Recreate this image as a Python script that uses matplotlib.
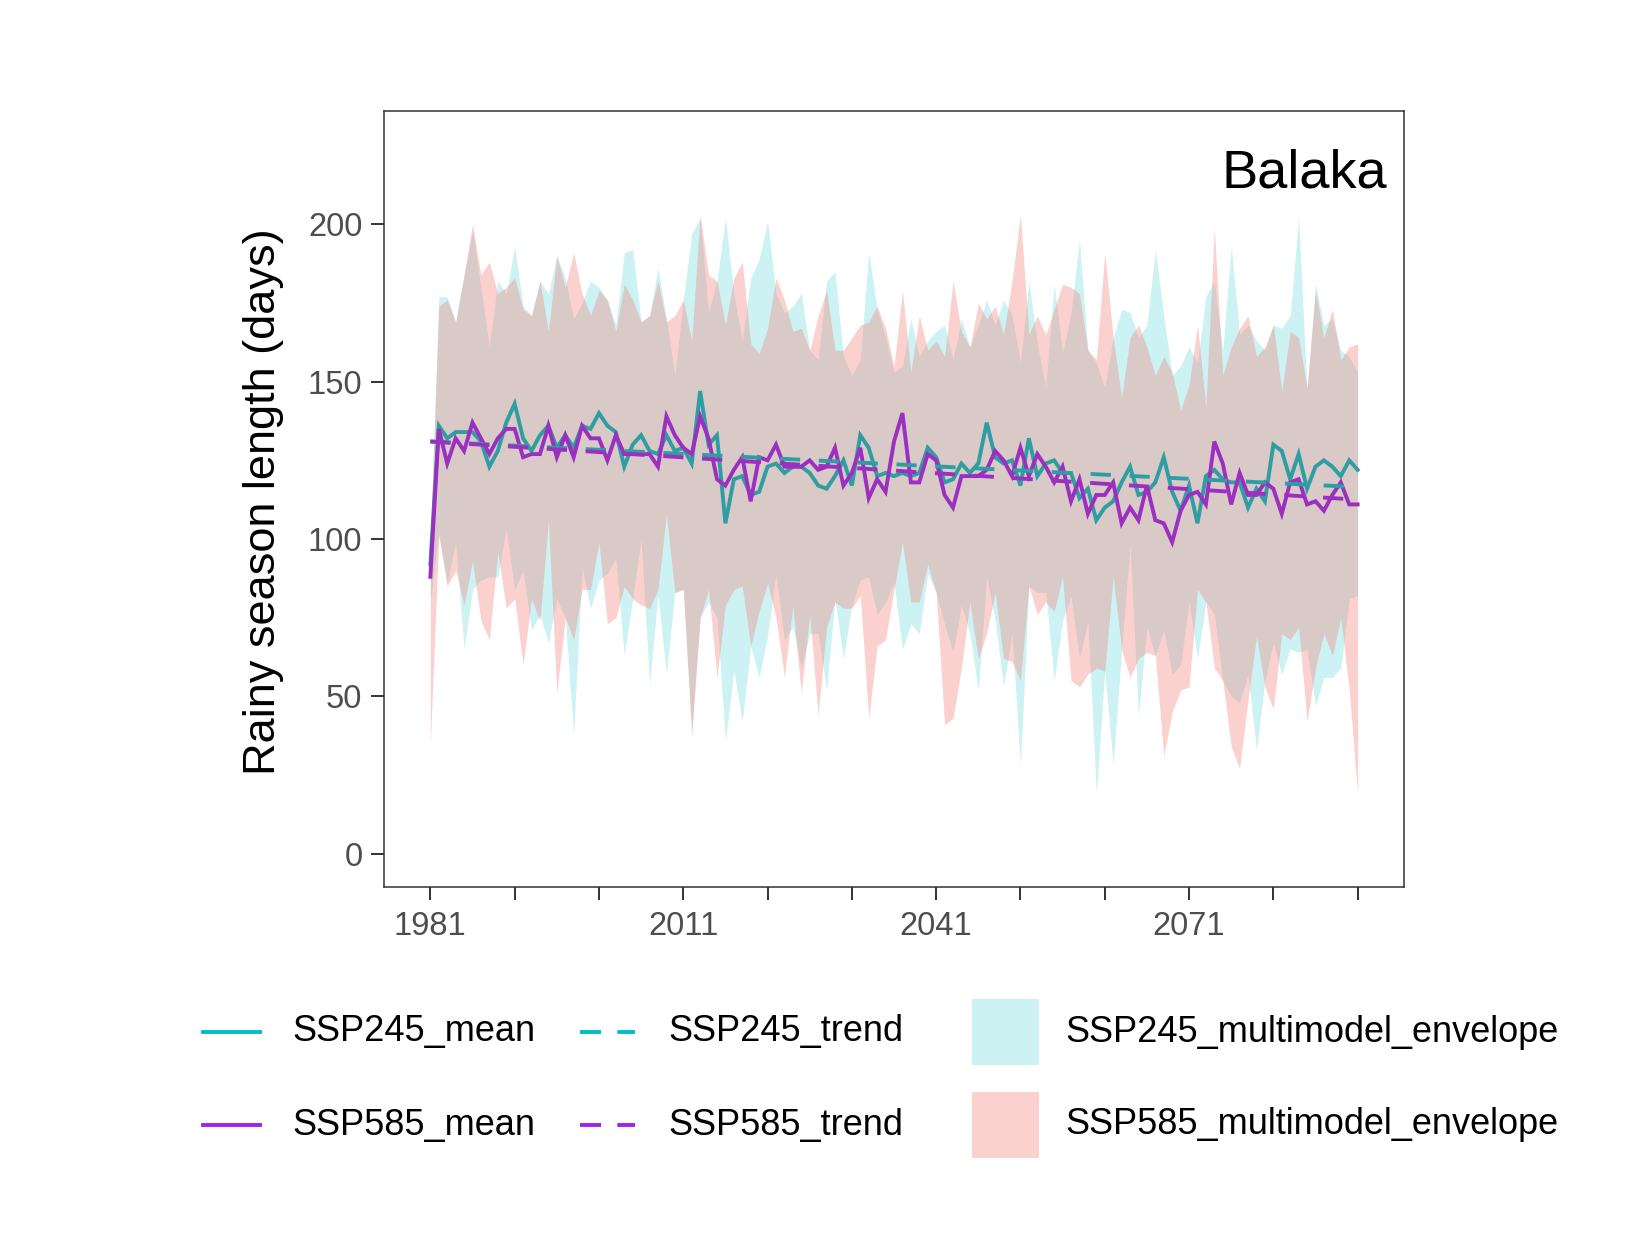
import numpy as np
import matplotlib
matplotlib.use("Agg")
import matplotlib.pyplot as plt
from matplotlib.lines import Line2D
from matplotlib.patches import Rectangle

plt.rcParams['font.family'] = ['Liberation Sans', 'DejaVu Sans']

# ---- data ----
years = np.arange(1981, 2092)

ssp245_mean = [92, 136, 132, 134, 134, 134, 131, 123, 128, 137,
               143, 132, 128, 133, 136, 129, 133, 129, 136, 135,
               140, 136, 134, 123, 130, 133, 128, 127, 133, 128,
               129, 124, 147, 130, 133, 105, 119, 120, 114, 115,
               123, 124, 121, 123, 123, 121, 117, 116, 120, 125,
               117, 133, 129, 120, 121, 120, 121, 120, 121, 129,
               126, 118, 119, 124, 121, 124, 137, 126, 124, 125,
               117, 132, 120, 124, 125, 121, 121, 113, 116, 106,
               110, 112, 118, 123, 114, 115, 118, 126, 115, 109,
               117, 105, 120, 122, 119, 118, 118, 110, 116, 112,
               130, 128, 119, 127, 116, 123, 125, 123, 120, 125,
               122]

ssp585_mean = [88, 135, 124, 132, 128, 137, 132, 127, 132, 135,
               135, 126, 127, 127, 136, 126, 133, 126, 136, 132,
               132, 125, 133, 127, 127, 127, 127, 123, 139, 133,
               129, 127, 139, 132, 119, 117, 122, 126, 112, 126,
               125, 130, 123, 123, 123, 125, 122, 123, 129, 117,
               121, 129, 113, 119, 115, 131, 140, 118, 118, 127,
               125, 114, 110, 120, 120, 120, 122, 128, 125, 120,
               129, 120, 127, 123, 118, 123, 112, 119, 108, 114,
               114, 118, 105, 110, 106, 117, 106, 105, 99, 109,
               114, 115, 111, 131, 124, 111, 121, 114, 114, 118,
               116, 108, 118, 119, 111, 112, 109, 114, 118, 111,
               111]

ssp245_upper = [100, 177, 177, 169, 184, 198, 180, 161, 182, 178,
                193, 174, 171, 182, 178, 190, 183, 170, 175, 182,
                180, 176, 168, 191, 192, 169, 171, 186, 170, 152,
                176, 197, 202, 172, 182, 202, 178, 163, 183, 189,
                201, 178, 172, 174, 178, 160, 157, 182, 185, 158,
                152, 157, 191, 173, 164, 153, 155, 170, 158, 163,
                166, 168, 157, 170, 161, 168, 176, 168, 176, 171,
                156, 182, 162, 148, 181, 159, 172, 195, 160, 156,
                148, 164, 173, 172, 164, 168, 192, 171, 152, 155,
                161, 156, 177, 182, 160, 193, 165, 168, 163, 160,
                168, 167, 171, 202, 147, 181, 168, 170, 160, 158,
                153]

ssp585_upper = [100, 174, 176, 169, 184, 200, 184, 188, 178, 180,
                183, 173, 171, 182, 166, 190, 180, 191, 178, 171,
                179, 176, 166, 181, 176, 169, 171, 182, 169, 171,
                176, 163, 203, 184, 182, 168, 183, 188, 162, 159,
                167, 183, 176, 166, 167, 160, 171, 179, 160, 160,
                164, 168, 169, 174, 167, 155, 179, 153, 171, 160,
                163, 158, 182, 166, 161, 175, 170, 174, 165, 182,
                203, 165, 171, 165, 173, 181, 180, 178, 160, 157,
                191, 164, 145, 164, 168, 161, 152, 158, 153, 141,
                149, 168, 142, 199, 152, 161, 167, 171, 158, 161,
                168, 147, 166, 164, 148, 179, 164, 173, 157, 161,
                162]

ssp245_lower = [80, 102, 86, 99, 65, 84, 87, 88, 88, 103,
                84, 90, 71, 76, 67, 81, 75, 38, 91, 78,
                87, 89, 94, 63, 81, 100, 54, 82, 57, 83,
                84, 40, 75, 80, 75, 36, 58, 42, 66, 56,
                69, 89, 68, 72, 59, 70, 70, 52, 81, 62,
                79, 87, 88, 76, 80, 86, 65, 73, 70, 89,
                83, 73, 64, 79, 70, 52, 88, 74, 53, 70,
                28, 85, 83, 83, 55, 74, 82, 62, 74, 19,
                58, 28, 65, 98, 44, 72, 63, 71, 57, 60,
                80, 62, 80, 76, 55, 50, 48, 57, 33, 55,
                67, 57, 65, 64, 65, 47, 56, 56, 59, 81,
                82]

ssp585_lower = [35, 101, 85, 90, 79, 93, 74, 68, 96, 78,
                81, 60, 81, 74, 106, 51, 75, 68, 84, 84,
                99, 73, 75, 85, 81, 79, 78, 84, 108, 83,
                84, 37, 75, 84, 56, 79, 84, 85, 66, 77,
                86, 75, 56, 79, 51, 76, 44, 72, 80, 78,
                78, 82, 43, 66, 68, 84, 99, 80, 80, 92,
                83, 41, 43, 59, 80, 62, 70, 83, 62, 61,
                55, 85, 76, 80, 77, 88, 55, 53, 57, 59,
                58, 88, 65, 56, 62, 64, 63, 31, 45, 52,
                53, 84, 80, 59, 55, 34, 27, 49, 69, 53,
                46, 70, 68, 72, 42, 59, 70, 63, 75, 52,
                19]

# linear trend end points (first year, last year)
ssp245_trend = [131, 116.5]
ssp585_trend = [131, 112.5]

labels = ["SSP245_mean", "SSP585_mean", "SSP245_trend", "SSP585_trend",
          "SSP245_multimodel_envelope", "SSP585_multimodel_envelope"]

# ---- colours ----
cyan = "#00BFC4"
salmon = "#F8766D"
teal_line = "#2E9EA2"
purple_line = "#9A2FC0"
legend_teal = "#00BFC4"
legend_purple = "#A020F0"

W, H = 1650, 1260
fig = plt.figure(figsize=(W / 100, H / 100), dpi=100)
ax = fig.add_axes([384 / W, 1 - 887 / H, 1020 / W, 776.5 / H])

ax.fill_between(years, ssp245_lower, ssp245_upper, color=cyan, alpha=0.2, lw=0)
ax.fill_between(years, ssp585_lower, ssp585_upper, color="#F57A74", alpha=0.34, lw=0)

ax.plot(years, ssp245_mean, color=teal_line, lw=2.8, solid_joinstyle='miter')
ax.plot(years, ssp585_mean, color=purple_line, lw=2.8, solid_joinstyle='miter')

tr_x = [years[0], years[-1]]
ax.plot(tr_x, ssp245_trend, color=teal_line, lw=2.8, dashes=(5.2, 4.8))
ax.plot(tr_x, ssp585_trend, color=purple_line, lw=2.8, dashes=(5.2, 4.8))

ax.set_xlim(1975.5, 2096.5)
ax.set_ylim(-10.6, 236.2)

ax.set_yticks([0, 50, 100, 150, 200])
xt = np.arange(1981, 2092, 10)
ax.set_xticks(xt)
ax.set_xticklabels([str(y) if (y - 1981) % 30 == 0 else "" for y in xt])

for s in ax.spines.values():
    s.set_color("#333333")
    s.set_linewidth(1.1)
ax.tick_params(axis='both', length=9.5, width=1.4, color="#333333",
               labelcolor="#4D4D4D", labelsize=23.5)
ax.tick_params(axis='y', pad=6)
ax.tick_params(axis='x', pad=8)

ax.text(0.983, 0.901, "Balaka", transform=ax.transAxes, ha='right',
        va='baseline', fontsize=39, color='black')

fig.text(263 / W, 1 - 502 / H, "Rainy season length (days)", rotation=90,
         ha='center', va='center', fontsize=32.5, color='black')

# ---- legend, drawn by hand to match the ggplot layout ----
def fx(px):
    return px / W


def fy(py):
    return 1 - py / H


rows = [1032, 1125]
for i, c in enumerate([legend_teal, legend_purple]):
    y = rows[i]
    fig.add_artist(Line2D([fx(203), fx(260)], [fy(y), fy(y)], color=c, lw=2.8,
                          transform=fig.transFigure))
    fig.text(fx(292), fy(y), labels[i], ha='left', va='center', fontsize=26)
    fig.add_artist(Line2D([fx(580), fx(635)], [fy(y), fy(y)], color=c, lw=2.8,
                          dashes=(5.4, 4.2), transform=fig.transFigure))
    fig.text(fx(668), fy(y), labels[2 + i], ha='left', va='center', fontsize=26)

for i, (c, a) in enumerate([(cyan, 0.2), ("#F57A74", 0.34)]):
    y = rows[i]
    fig.add_artist(Rectangle((fx(972), fy(y + 33)), 67 / W, 66 / H, color=c,
                             alpha=a, lw=0, transform=fig.transFigure))
    fig.text(fx(1065), fy(y), labels[4 + i], ha='left', va='center', fontsize=26)

plt.savefig("out.png", dpi=100)
